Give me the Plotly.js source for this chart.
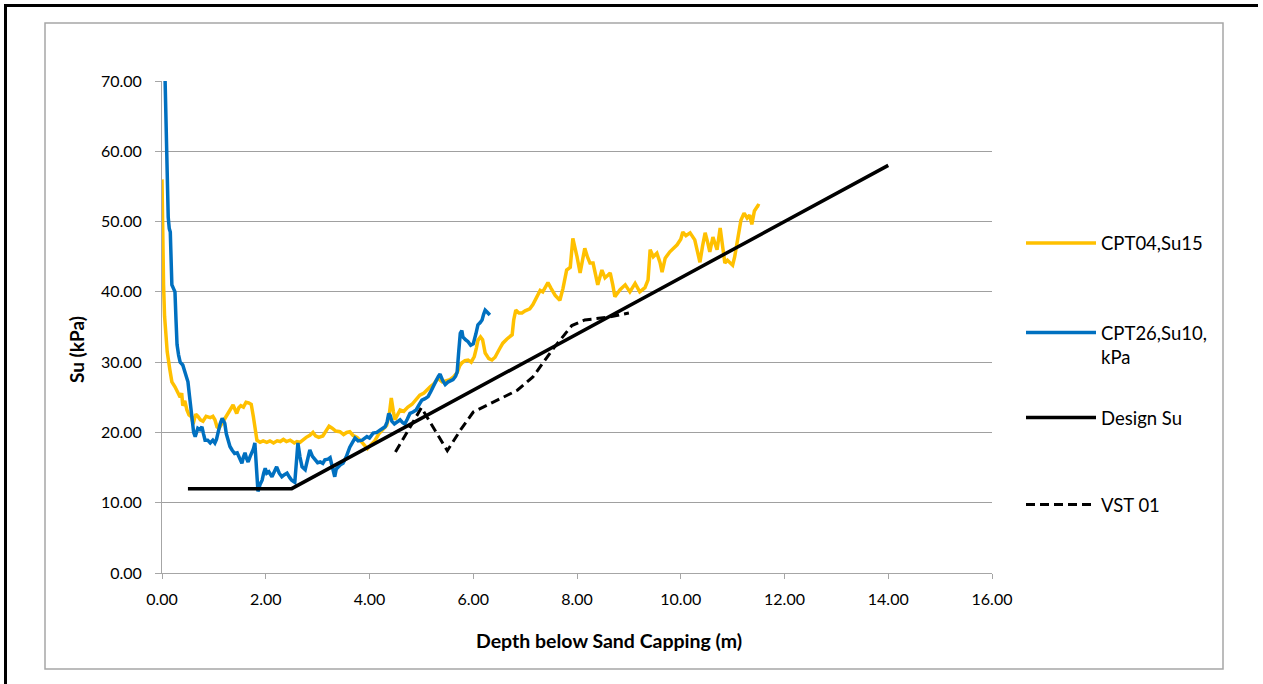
<!DOCTYPE html>
<html>
<head>
<meta charset="utf-8">
<script src="https://cdn.plot.ly/plotly-3.0.1.min.js"></script>
<style>html,body{margin:0;padding:0;background:#fff;}#chart{width:1263px;height:684px;}</style>
</head>
<body>
<div id="chart"></div>
<script>
// CPT04, Su15
var cpt04Depth = [0.00,0.01,0.02,0.03,0.05,0.07,0.10,0.15,0.19,0.25,0.30,0.35,0.38,0.40,0.44,0.48,0.52,0.57,0.60,0.65,0.69,0.74,0.79,0.85,0.93,0.98,1.02,1.06,1.10,1.16,1.22,1.27,1.32,1.37,1.41,1.44,1.48,1.52,1.57,1.62,1.67,1.72,1.76,1.80,1.83,1.89,1.95,2.02,2.08,2.15,2.22,2.28,2.34,2.40,2.47,2.55,2.60,2.66,2.72,2.78,2.85,2.91,2.96,3.02,3.10,3.16,3.22,3.28,3.35,3.43,3.50,3.56,3.62,3.68,3.76,3.83,3.90,3.96,4.02,4.10,4.18,4.26,4.33,4.38,4.42,4.46,4.49,4.54,4.59,4.66,4.74,4.82,4.90,4.97,5.05,5.12,5.17,5.24,5.32,5.40,5.48,5.55,5.62,5.69,5.74,5.78,5.84,5.90,5.96,6.02,6.06,6.09,6.14,6.18,6.23,6.30,6.36,6.42,6.50,6.57,6.65,6.75,6.78,6.82,6.88,6.94,7.00,7.09,7.15,7.23,7.29,7.34,7.40,7.44,7.50,7.58,7.67,7.73,7.80,7.87,7.92,7.96,8.00,8.06,8.11,8.15,8.20,8.25,8.31,8.36,8.40,8.48,8.54,8.60,8.64,8.69,8.73,8.78,8.83,8.93,9.02,9.12,9.21,9.31,9.37,9.41,9.47,9.54,9.60,9.64,9.70,9.79,9.86,9.93,10.00,10.04,10.10,10.18,10.27,10.32,10.37,10.42,10.47,10.52,10.56,10.62,10.66,10.70,10.76,10.81,10.85,10.90,10.95,11.00,11.04,11.08,11.12,11.16,11.22,11.28,11.33,11.37,11.42,11.49,11.52];
var cpt04Su = [56,50,45,41,36.5,33.5,31.5,29,27.2,26.5,25.8,25,25.6,23.8,24.5,23.2,22.5,22.2,21.2,22.6,22.3,21.8,21.6,22.3,22.1,22.3,21.8,20.8,20.6,21.4,22.2,22.8,23.3,23.9,23.2,22.7,23.5,23.8,23.6,24.3,24.2,24.0,22.3,20.5,18.9,18.6,18.8,18.6,18.8,18.5,18.8,18.7,19.0,18.7,18.9,18.5,18.7,18.6,19.0,19.3,19.6,20.0,19.5,19.3,19.5,20.2,20.9,20.6,20.2,20.1,19.7,20.0,20.1,19.6,19.3,18.8,18.3,17.7,18.2,18.8,19.8,20.4,21.0,22.5,24.9,23.0,21.8,22.5,23.2,23.0,23.6,24.0,24.6,25.3,25.6,26.2,26.5,26.9,27.7,27.2,27.3,27.5,27.9,28.5,29.5,29.9,30.2,30.3,30.0,30.8,32.0,33.1,33.6,33.2,31.3,30.5,30.3,30.7,31.8,32.7,33.3,33.9,36.0,37.4,37.0,37.0,37.3,37.6,38.2,39.3,40.2,40.0,40.8,41.3,40.5,39.5,38.8,40.5,43.1,43.5,47.6,46.5,45.0,42.7,44.5,46.2,45.0,44.1,44.1,42.5,41.0,43.1,42.0,42.4,42.7,41.0,39.3,39.8,40.3,41.0,40.0,41.2,40.0,40.6,41.7,46.0,45.0,45.5,44.2,42.8,44.8,45.7,46.2,46.7,47.5,48.5,48.0,48.4,47.4,45.8,44.2,46.5,48.4,47.0,45.7,47.8,47.0,46.0,49.1,46.0,44.1,44.5,44.1,43.8,45.0,46.7,49.0,50.2,51.2,50.5,50.9,49.6,51.5,52.3,52.2];

// CPT26, Su10, kPa
var cpt26Depth = [0.06,0.08,0.10,0.12,0.14,0.16,0.17,0.19,0.22,0.25,0.27,0.29,0.32,0.35,0.40,0.45,0.50,0.53,0.56,0.58,0.61,0.64,0.67,0.69,0.73,0.77,0.80,0.83,0.88,0.93,0.98,1.02,1.05,1.08,1.12,1.16,1.21,1.24,1.27,1.31,1.35,1.40,1.45,1.50,1.54,1.57,1.60,1.63,1.66,1.70,1.73,1.76,1.79,1.82,1.85,1.89,1.93,1.96,1.99,2.02,2.06,2.12,2.16,2.21,2.26,2.31,2.36,2.41,2.46,2.50,2.56,2.59,2.62,2.66,2.70,2.76,2.80,2.85,2.90,2.95,3.00,3.05,3.10,3.14,3.20,3.24,3.28,3.33,3.36,3.39,3.44,3.49,3.55,3.62,3.67,3.72,3.78,3.86,3.95,4.00,4.07,4.14,4.20,4.26,4.30,4.34,4.37,4.40,4.43,4.48,4.53,4.59,4.64,4.68,4.73,4.78,4.84,4.90,4.96,5.01,5.07,5.13,5.18,5.22,5.28,5.33,5.36,5.41,5.46,5.52,5.61,5.66,5.69,5.72,5.75,5.78,5.80,5.85,5.90,5.95,6.00,6.05,6.09,6.13,6.17,6.20,6.23,6.27,6.30,6.32];
var cpt26Su = [70,62,55,50.6,49.0,48.5,46,41,40.5,40.0,36,32.5,31,30.0,29.6,28.5,27.2,25.2,23,21.3,20.0,19.4,20.2,20.6,20.4,20.8,19.8,18.9,18.9,18.5,18.9,18.5,19.0,20.1,21.2,22.0,21.3,19.8,18.9,18.0,17.5,17.0,17.1,16.3,15.6,16.5,17.1,16.3,15.8,16.6,17.1,17.6,18.5,15.5,11.6,12.6,13.2,14.2,14.9,14.2,14.4,13.7,14.3,15.1,14.2,13.7,14.0,14.2,13.6,13.2,12.9,16.0,18.5,16.5,15.1,14.7,16.0,17.5,16.6,16.1,15.7,15.8,15.6,16.1,16.2,16.4,15.0,13.7,14.8,15.1,15.4,15.6,16.5,17.9,18.6,19.2,18.8,18.9,19.4,19.2,19.9,20.0,20.3,20.6,20.8,21.5,22.7,22.4,21.6,21.2,21.5,21.8,21.4,21.2,21.9,22.7,22.9,23.2,24.0,24.6,24.8,25.1,25.8,26.5,27.3,28.0,28.3,27.4,26.8,27.2,27.5,28.0,28.6,31.5,34.1,34.5,33.6,33.2,32.9,32.4,32.6,34.0,35.3,35.6,36.0,36.8,37.4,37.1,36.8,36.7];

// Design Su
var designDepth = [0.5, 2.5, 14.0];
var designSu = [12, 12, 58];

// VST 01
var vstDepth = [4.5, 5.0, 5.5, 5.75, 6.0, 6.35, 6.85, 7.15, 7.55, 7.9, 8.15, 8.6, 9.0];
var vstSu = [17.2, 23.5, 17.4, 20.3, 22.9, 24.2, 26.0, 27.9, 32.0, 35.2, 36.0, 36.4, 37.0];

// Axis ticks
var xTicks = [0, 2, 4, 6, 8, 10, 12, 14, 16];
var yTicks = [0, 10, 20, 30, 40, 50, 60, 70];
var xTickLabels = ["0.00","2.00","4.00","6.00","8.00","10.00","12.00","14.00","16.00"];
var yTickLabels = ["0.00","10.00","20.00","30.00","40.00","50.00","60.00","70.00"];

var FONT = "Lato, 'Open Sans', sans-serif";

var traces = [
  {x: cpt04Depth, y: cpt04Su, name: "CPT04,Su15", mode: "lines", legend: "legend",
   line: {color: "#FFC000", width: 3.5}},
  {x: cpt26Depth, y: cpt26Su, name: "CPT26,Su10,<br>kPa", mode: "lines", legend: "legend2",
   line: {color: "#0070C0", width: 3.5}},
  {x: designDepth, y: designSu, name: "Design Su", mode: "lines", legend: "legend3",
   line: {color: "#000000", width: 3.5}},
  {x: vstDepth, y: vstSu, name: "VST 01", mode: "lines", legend: "legend4",
   line: {color: "#000000", width: 3, dash: "9px,5px"}}
];

function px2paperX(p){ return (p - 162) / 830; }
function px2paperY(p){ return (573 - p) / 492; }

function legendAt(yPx){
  return {x: px2paperX(1021), xanchor: "left", y: px2paperY(yPx), yanchor: "middle",
    bgcolor: "rgba(0,0,0,0)", font: {family: FONT, size: 18.5, color: "#000"},
    itemwidth: 70, valign: "top", tracegroupgap: 0};
}

var layout = {
  width: 1263, height: 684,
  paper_bgcolor: "#ffffff", plot_bgcolor: "#ffffff",
  margin: {l: 162, r: 271, t: 81, b: 111, autoexpand: false},
  font: {family: FONT, color: "#000"},
  showlegend: true,
  legend: legendAt(243.5),
  legend2: legendAt(345),
  legend3: legendAt(418),
  legend4: legendAt(505),
  xaxis: {
    range: [0, 16], tickvals: xTicks, ticktext: xTickLabels,
    showgrid: false, zeroline: false, showline: true, linecolor: "#a6a6a6", linewidth: 1,
    ticks: "outside", ticklen: 5, tickcolor: "#a6a6a6", ticklabelstandoff: 7,
    tickfont: {family: FONT, size: 16, color: "#000"}, fixedrange: true
  },
  yaxis: {
    range: [0, 70], tickvals: yTicks, ticktext: yTickLabels,
    showgrid: true, gridcolor: "#a0a0a0", gridwidth: 1, zeroline: false,
    showline: true, linecolor: "#a6a6a6", linewidth: 1,
    ticks: "outside", ticklen: 6, tickcolor: "#a6a6a6", ticklabelstandoff: 10,
    tickfont: {family: FONT, size: 16, color: "#000"}, fixedrange: true
  },
  annotations: [
    {text: "<b>Depth below Sand Capping (m)</b>", xref: "paper", yref: "paper",
     x: px2paperX(609), y: px2paperY(640), xanchor: "center", yanchor: "middle",
     showarrow: false, font: {family: FONT, size: 19.5, color: "#000"}},
    {text: "<b>Su (kPa)</b>", xref: "paper", yref: "paper", textangle: -90,
     x: px2paperX(76), y: px2paperY(350), xanchor: "center", yanchor: "middle",
     showarrow: false, font: {family: FONT, size: 19, color: "#000"}}
  ],
  shapes: [
    {type: "rect", xref: "paper", yref: "paper",
     x0: px2paperX(45), x1: px2paperX(1223), y0: px2paperY(669), y1: px2paperY(23),
     line: {color: "#a6a6a6", width: 1.5}, fillcolor: "rgba(0,0,0,0)"},
    {type: "line", xref: "paper", yref: "paper",
     x0: px2paperX(4), x1: px2paperX(1258), y0: px2paperY(5.5), y1: px2paperY(5.5),
     line: {color: "#000", width: 3}},
    {type: "line", xref: "paper", yref: "paper",
     x0: px2paperX(5.5), x1: px2paperX(5.5), y0: px2paperY(4), y1: px2paperY(690),
     line: {color: "#000", width: 3}}
  ]
};

Plotly.newPlot("chart", traces, layout, {displayModeBar: false, staticPlot: true});
</script>
</body>
</html>
